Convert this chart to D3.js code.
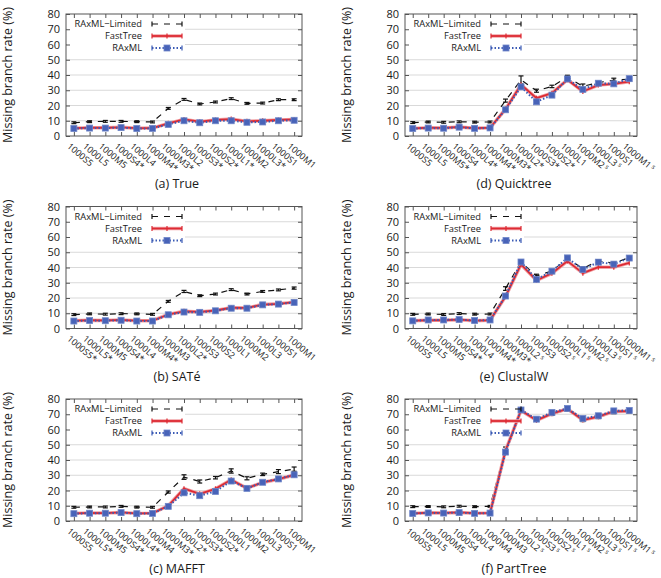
<!DOCTYPE html>
<html><head><meta charset="utf-8">
<script src="https://cdn.jsdelivr.net/npm/d3@7"></script>
<style>
body{margin:0;background:#fff}
svg{display:block}
text{font-family:"Open Sans",sans-serif;fill:#1a1a1a}
</style>
</head><body>
<svg id="c" width="661" height="578"></svg>
<script>
const yTicks = [0,10,20,30,40,50,60,70,80];
const seriesNames = ["RAxML\u2212Limited","FastTree","RAxML"];

const catsTrue = ["1000S5","1000L5","1000M5","1000S4*","1000L4","1000M4*","1000M3*","1000L2","1000S3*","1000S2*","1000L1*","1000M2","1000L3*","1000S1","1000M1"];
const limTrue = [8.7,9.4,9.6,9.6,9.4,9.2,18.1,24.0,21.0,22.3,24.5,21.4,21.6,23.8,23.8];
const ftTrue  = [5.1,5.4,5.4,5.7,5.1,5.2,8.3,10.9,9.4,10.5,11.1,9.6,10.0,10.5,10.9];
const rxTrue  = [4.9,5.2,5.2,5.5,4.9,5.0,7.6,10.0,8.7,10.0,10.0,9.0,9.2,10.0,10.3];
const errTrue = [0.4,0.4,0.4,0.4,0.4,0.4,0.5,0.6,0.5,0.5,0.6,0.5,0.5,0.6,0.6];

const catsSate = ["1000S5*","1000L5*","1000M5","1000S4*","1000L4","1000M4*","1000M3","1000L2*","1000S3","1000S2","1000L1","1000M2","1000L3","1000S1","1000M1"];
const limSate = [9.1,9.6,9.4,9.7,9.6,9.3,17.8,24.3,21.5,22.6,25.5,22.6,24.3,25.3,26.5];
const ftSate  = [5.1,5.4,5.3,5.6,5.1,5.1,9.2,11.3,10.9,11.8,13.6,13.5,15.7,16.2,17.3];
const rxSate  = [4.9,5.2,5.1,5.4,4.9,4.9,9.0,10.8,10.6,11.6,13.3,13.3,15.5,16.0,17.1];
const errSate = [0.4,0.4,0.4,0.4,0.4,0.4,0.5,0.7,0.5,0.5,0.6,0.6,0.6,0.6,0.7];

const catsMafft = ["1000S5","1000L5*","1000M5","1000S4*","1000L4*","1000M4","1000M3*","1000L2*","1000S3*","1000S2*","1000L1","1000M2","1000L3","1000S1","1000M1"];
const limMafft = [9.0,9.2,9.2,9.6,9.1,9.0,19.0,28.8,25.9,28.4,32.8,28.0,30.6,32.4,34.0];
const ftMafft  = [5.0,5.3,5.2,5.6,5.0,5.1,10.0,21.2,17.8,21.1,27.0,21.5,25.3,27.4,30.2];
const rxMafft  = [4.8,5.1,5.1,5.5,4.8,5.0,9.6,18.5,16.6,19.4,26.2,21.4,25.4,27.6,30.3];
const errMafft = [0.4,0.4,0.4,0.4,0.4,0.4,0.7,1.5,1.0,0.8,1.4,1.0,0.8,1.3,1.4];

const catsQt = ["1000S5","1000L5","1000M5*","1000S4","1000L4*","1000M4*","1000M3*","1000L2*","1000S3*","1000S2*","1000L1","1000M2\u02E2","1000L3\u02E2","1000S1","1000M1\u02E2"];
const limQt = [8.8,9.2,9.0,9.3,9.1,9.2,23.2,36.8,29.7,32.5,38.6,32.6,35.0,36.6,37.2];
const ftQt  = [5.0,5.4,5.3,5.9,5.1,5.4,17.6,33.6,24.8,28.1,36.9,29.2,33.4,34.2,35.6];
const rxQt  = [4.9,5.2,5.1,5.8,5.0,5.3,17.2,32.2,22.4,26.8,37.4,30.6,34.6,34.2,37.6];
const errQt = [0.4,0.4,0.4,0.4,0.4,0.4,1.0,2.6,1.0,0.8,1.2,1.5,0.8,1.3,1.0];

const catsCw = ["1000S5","1000L5","1000M5","1000S4*","1000L4","1000M4*","1000M3*","1000L2\u02E2","1000S3","1000S2\u02E2","1000L1\u02E2","1000M2\u02E2","1000L3\u02E2","1000S1\u02E2","1000M1\u02E2"];
const limCw = [9.3,9.5,9.2,9.8,9.4,9.5,26.2,43.6,34.4,37.8,45.6,39.4,44.3,42.8,46.6];
const ftCw  = [5.1,5.4,5.4,5.8,5.1,5.4,21.0,42.0,31.6,36.2,44.2,36.3,40.2,40.2,43.0];
const rxCw  = [5.0,5.6,5.6,5.9,5.2,5.6,21.3,43.6,32.2,37.6,46.3,38.7,43.5,42.2,46.2];
const errCw = [0.4,0.4,0.4,0.4,0.4,0.4,1.2,1.0,1.2,0.8,1.0,1.0,0.8,0.8,1.0];

const catsPt = ["1000S5","1000L5","1000M5","1000S4","1000L4","1000M4","1000M3","1000L2\u02E2","1000S3\u02E2","1000S2\u02E2","1000L1\u02E2","1000M2\u02E2","1000L3\u02E2","1000S1\u02E2","1000M1\u02E2"];
const limPt = [9.4,9.5,9.3,9.7,9.4,9.6,47.0,72.2,66.5,70.0,73.0,66.0,68.0,71.2,71.5];
const ftPt  = [5.0,5.4,5.3,5.6,5.1,5.3,46.2,72.5,66.0,70.4,73.5,66.2,68.4,71.8,72.0];
const rxPt  = [4.9,5.3,5.2,5.5,5.0,5.2,45.2,72.8,66.8,71.2,73.8,67.2,69.0,72.2,72.5];
const errPt = [0.4,0.4,0.4,0.4,0.4,0.4,1.5,1.0,0.8,0.8,0.8,0.8,0.8,0.8,0.8];

const panels = [
  {cap:"(a)  True",      cats:catsTrue,  lim:limTrue,  ft:ftTrue,  rx:rxTrue,  err:errTrue,  col:0,row:0},
  {cap:"(b)  SAT\u00E9", cats:catsSate,  lim:limSate,  ft:ftSate,  rx:rxSate,  err:errSate,  col:0,row:1},
  {cap:"(c)  MAFFT",     cats:catsMafft, lim:limMafft, ft:ftMafft, rx:rxMafft, err:errMafft, col:0,row:2},
  {cap:"(d)  Quicktree", cats:catsQt,    lim:limQt,    ft:ftQt,    rx:rxQt,    err:errQt,    col:1,row:0},
  {cap:"(e)  ClustalW",  cats:catsCw,    lim:limCw,    ft:ftCw,    rx:rxCw,    err:errCw,    col:1,row:1},
  {cap:"(f)  PartTree",  cats:catsPt,    lim:limPt,    ft:ftPt,    rx:rxPt,    err:errPt,    col:1,row:2}
];

const colL = [66, 405], colR = [302, 637];
const rowT = [14, 206.5, 399], plotH = 122;
const RED = "#dd2a33", BLUE = "#3b5bb5";

const svg = d3.select("#c");

panels.forEach(p => {
  const L = colL[p.col], R = colR[p.col], T = rowT[p.row], B = T + plotH;
  const g = svg.append("g");
  const idx = d3.range(p.cats.length);
  const x = d3.scalePoint().domain(idx).range([L, R]).padding(0.5);
  const y = d3.scaleLinear().domain([0, 80]).range([B, T]);

  // grid
  g.selectAll(".grid").data(yTicks.filter(v => v > 0 && v < 80)).enter().append("line")
    .attr("x1", L).attr("x2", R).attr("y1", d => y(d)).attr("y2", d => y(d))
    .attr("stroke", "#d9d9d9").attr("stroke-width", 1);

  // legend background
  g.append("rect").attr("x", L + 1).attr("y", T + 3).attr("width", 118).attr("height", 38).attr("fill", "#fff");

  // axes
  const yAxisL = d3.axisLeft(y).tickValues(yTicks).tickSize(-4).tickPadding(6);
  const yAxisR = d3.axisRight(y).tickValues(yTicks).tickSize(-4).tickFormat("");
  const xAxisB = d3.axisBottom(x).tickSize(-4).tickFormat("");
  const xAxisT = d3.axisTop(x).tickSize(-4).tickFormat("");
  const styleAxis = a => {
    a.select(".domain").remove();
    a.selectAll(".tick line").attr("stroke", "#555");
  };
  g.append("g").attr("transform", `translate(${L},0)`).call(yAxisL).call(styleAxis)
    .selectAll("text").attr("font-size", 11).attr("font-family", "Open Sans").attr("fill", "#1a1a1a");
  g.append("g").attr("transform", `translate(${R},0)`).call(yAxisR).call(styleAxis);
  g.append("g").attr("transform", `translate(0,${B})`).call(xAxisB).call(styleAxis);
  g.append("g").attr("transform", `translate(0,${T})`).call(xAxisT).call(styleAxis);
  g.append("rect").attr("x", L).attr("y", T).attr("width", R - L).attr("height", plotH)
    .attr("fill", "none").attr("stroke", "#555").attr("stroke-width", 1);

  // x labels
  const xl = g.selectAll(".xl").data(idx).enter().append("text")
    .attr("transform", d => `translate(${x(d) - 3},${B + 6}) rotate(40)`)
    .attr("font-size", 9).attr("dy", "0.75em").attr("text-anchor", "start");
  xl.each(function(d) {
    const s = p.cats[d];
    const t = d3.select(this);
    if (s.endsWith("\u02E2")) {
      t.append("tspan").text(s.slice(0, -1));
      t.append("tspan").attr("font-size", 6.5).attr("dx", 1.5).attr("dy", -3).text("s");
    } else t.text(s);
  });

  // y label
  g.append("text").attr("transform", `translate(${L - 54},${(T + B) / 2}) rotate(-90)`)
    .attr("text-anchor", "middle").attr("font-size", 12.5).text("Missing  branch  rate  (%)");

  // caption
  g.append("text").attr("x", (L + R) / 2 - 7).attr("y", T + 174).attr("text-anchor", "middle")
    .attr("font-size", 12.5).text(p.cap);

  const line = d3.line().x((d, i) => x(i)).y(d => y(d));

  // RAxML-Limited
  g.append("path").attr("d", line(p.lim)).attr("fill", "none").attr("stroke", "#111")
    .attr("stroke-width", 1.2).attr("stroke-dasharray", "6,6");
  p.lim.forEach((v, i) => {
    const e = Math.max(p.err[i], 0.6);
    const cx = x(i), y1 = y(v - e), y2 = y(v + e);
    g.append("line").attr("x1", cx).attr("x2", cx).attr("y1", y1).attr("y2", y2).attr("stroke", "#111").attr("stroke-width", 1.2);
    g.append("line").attr("x1", cx - 2.5).attr("x2", cx + 2.5).attr("y1", y1).attr("y2", y1).attr("stroke", "#111").attr("stroke-width", 1.2);
    g.append("line").attr("x1", cx - 2.5).attr("x2", cx + 2.5).attr("y1", y2).attr("y2", y2).attr("stroke", "#111").attr("stroke-width", 1.2);
  });

  // FastTree
  g.append("path").attr("d", line(p.ft)).attr("fill", "none").attr("stroke", "#f1a3a6")
    .attr("stroke-width", 3.5).attr("stroke-linejoin", "round");
  g.append("path").attr("d", line(p.ft)).attr("fill", "none").attr("stroke", RED)
    .attr("stroke-width", 1.8).attr("stroke-linejoin", "round");
  p.ft.forEach((v, i) => {
    g.append("line").attr("x1", x(i)).attr("x2", x(i)).attr("y1", y(v) - 2.5).attr("y2", y(v) + 2.5)
      .attr("stroke", RED).attr("stroke-width", 1.2);
  });

  // RAxML
  g.append("path").attr("d", line(p.rx)).attr("fill", "none").attr("stroke", BLUE)
    .attr("stroke-width", 2).attr("stroke-dasharray", "1.5,2");
  g.selectAll(".sq").data(p.rx).enter().append("rect")
    .attr("x", (d, i) => x(i) - 3).attr("y", d => y(d) - 3).attr("width", 6).attr("height", 6)
    .attr("fill", "#4863b8").attr("stroke", "#6f86c8").attr("stroke-width", 0.8);

  // legend
  const lx0 = L + 86, lx1 = L + 116;
  const ly = [T + 10, T + 22, T + 34];
  seriesNames.forEach((n, k) => {
    g.append("text").attr("x", L + 76).attr("y", ly[k] + 3.4).attr("text-anchor", "end")
      .attr("font-family", "Lato").attr("font-size", 9.3).text(n);
  });
  // limited sample
  g.append("line").attr("x1", lx0).attr("x2", lx1).attr("y1", ly[0]).attr("y2", ly[0])
    .attr("stroke", "#111").attr("stroke-width", 1.2).attr("stroke-dasharray", "6,6");
  [lx0, lx1].forEach(cx => g.append("line").attr("x1", cx).attr("x2", cx).attr("y1", ly[0] - 2.5).attr("y2", ly[0] + 2.5)
    .attr("stroke", "#111").attr("stroke-width", 1.2));
  // fasttree sample
  g.append("line").attr("x1", lx0).attr("x2", lx1).attr("y1", ly[1]).attr("y2", ly[1])
    .attr("stroke", "#f1a3a6").attr("stroke-width", 3.5);
  g.append("line").attr("x1", lx0).attr("x2", lx1).attr("y1", ly[1]).attr("y2", ly[1])
    .attr("stroke", RED).attr("stroke-width", 1.8);
  [lx0, (lx0 + lx1) / 2, lx1].forEach(cx => g.append("line").attr("x1", cx).attr("x2", cx).attr("y1", ly[1] - 2.5).attr("y2", ly[1] + 2.5)
    .attr("stroke", RED).attr("stroke-width", 1.2));
  // raxml sample
  g.append("line").attr("x1", lx0).attr("x2", lx1).attr("y1", ly[2]).attr("y2", ly[2])
    .attr("stroke", BLUE).attr("stroke-width", 2).attr("stroke-dasharray", "1.5,2");
  [lx0, lx1].forEach(cx => g.append("line").attr("x1", cx).attr("x2", cx).attr("y1", ly[2] - 2.5).attr("y2", ly[2] + 2.5)
    .attr("stroke", BLUE).attr("stroke-width", 1.2));
  g.append("rect").attr("x", (lx0 + lx1) / 2 - 3).attr("y", ly[2] - 3).attr("width", 6).attr("height", 6)
    .attr("fill", "#4863b8").attr("stroke", "#6f86c8").attr("stroke-width", 0.8);
});
</script>
</body></html>
